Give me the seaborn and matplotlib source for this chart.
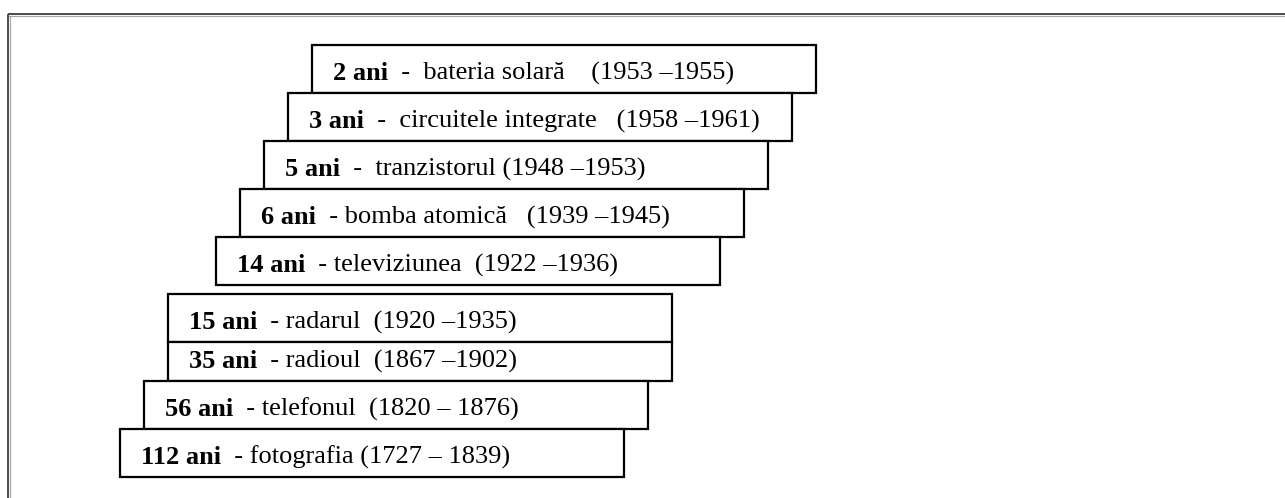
import matplotlib
matplotlib.use("Agg")
import matplotlib.pyplot as plt
import seaborn as sns
import pandas as pd

# ---- data ----
durations = [2, 3, 5, 6, 14, 15, 35, 56, 112]
inventions = ["bateria solară", "circuitele integrate", "tranzistorul", "bomba atomică",
              "televiziunea", "radarul", "radioul", "telefonul", "fotografia"]
start_years = [1953, 1958, 1948, 1939, 1922, 1920, 1867, 1820, 1727]
end_years = [1955, 1961, 1953, 1945, 1936, 1935, 1902, 1876, 1839]

# ---- layout (staircase steps, row tops/heights, text spacing) ----
step_level = [8, 7, 6, 5, 4, 2, 2, 1, 0]
row_top = [45, 93, 141, 189, 237, 294, 342, 381, 429]
row_height = [48, 48, 48, 48, 48, 48, 39, 48, 48]
sep_before = ["  -  ", "  -  ", "  -  ", "  - ", "  - ", "  - ", "  - ", "  - ", "  - "]
gap_year = ["    (", "   (", " (", "   (", "  (", "  (", "  (", "  (", " ("]
dash = [" –", " –", " –", " –", " –", " –", " –", " – ", " – "]

df = pd.DataFrame({
    "durata": durations, "inventie": inventions,
    "start": start_years, "end": end_years,
    "level": step_level, "top": row_top, "h": row_height,
})

sns.set_theme(style="white")
plt.rcParams["font.family"] = ["Liberation Serif", "DejaVu Serif"]

W, H = 1285, 498
fig = plt.figure(figsize=(W / 100, H / 100), dpi=100)
ax = fig.add_axes([0, 0, 1, 1])
ax.set_xlim(0, W)
ax.set_ylim(H, 0)
ax.axis("off")

# outer frame (double grey line)
ax.plot([8, W], [14, 14], color="#4a4a4a", lw=1.4, solid_capstyle="butt")
ax.plot([8, W], [15.6, 15.6], color="#a8a8a8", lw=0.9, solid_capstyle="butt")
ax.plot([8, 8], [14, H], color="#4a4a4a", lw=1.4, solid_capstyle="butt")
ax.plot([9.6, 9.6], [15.6, H], color="#a8a8a8", lw=0.9, solid_capstyle="butt")

BASE_X, STEP, BOX_W = 120, 24, 504
lefts = BASE_X + STEP * df["level"]
centers = df["top"] + df["h"] / 2
ax.barh(y=centers, width=BOX_W, left=lefts, height=df["h"],
        color="white", edgecolor="black", linewidth=1.6)

fs = 19
for i, r in df.iterrows():
    x0 = lefts[i] + 21
    yb = r["top"] + r["h"] - 13.5
    bold = ax.text(x0, yb, f"{r['durata']} ani", fontsize=fs, fontweight="bold",
                   va="baseline", ha="left", color="black")
    rest = f"{sep_before[i]}{r['inventie']}{gap_year[i]}{r['start']}{dash[i]}{r['end']})"
    ax.annotate(rest, xy=(1, yb), xycoords=(bold, "data"), va="baseline", ha="left",
                fontsize=fs, color="black")

fig.savefig("out.png", dpi=100)
